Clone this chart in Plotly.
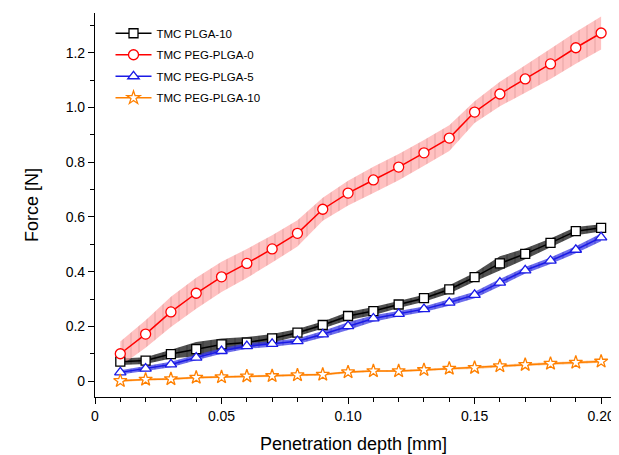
import plotly.graph_objects as go

depth = [0.01, 0.02, 0.03, 0.04, 0.05, 0.06, 0.07, 0.08, 0.09, 0.10,
         0.11, 0.12, 0.13, 0.14, 0.15, 0.16, 0.17, 0.18, 0.19, 0.20]

plga10 = [0.071, 0.075, 0.099, 0.117, 0.134, 0.141, 0.156, 0.177, 0.205, 0.238,
          0.256, 0.280, 0.303, 0.335, 0.380, 0.430, 0.465, 0.505, 0.548, 0.560]
plga10_err = [0.012, 0.012, 0.016, 0.026, 0.022, 0.02, 0.016, 0.013, 0.013, 0.015,
              0.015, 0.013, 0.013, 0.015, 0.016, 0.026, 0.02, 0.016, 0.015, 0.013]

peg0 = [0.100, 0.172, 0.253, 0.321, 0.381, 0.430, 0.483, 0.540, 0.628, 0.687,
        0.735, 0.782, 0.834, 0.888, 0.983, 1.049, 1.104, 1.159, 1.218, 1.272]
peg0_err = [0.045, 0.05, 0.055, 0.057, 0.055, 0.053, 0.05, 0.048, 0.042, 0.045,
            0.048, 0.048, 0.047, 0.047, 0.04, 0.045, 0.05, 0.055, 0.058, 0.06]

peg5 = [0.032, 0.046, 0.061, 0.086, 0.110, 0.128, 0.136, 0.146, 0.171, 0.201,
        0.229, 0.246, 0.263, 0.287, 0.315, 0.360, 0.405, 0.440, 0.480, 0.525]
peg5_err = [0.008, 0.009, 0.01, 0.01, 0.01, 0.01, 0.01, 0.01, 0.012, 0.014,
            0.012, 0.01, 0.01, 0.012, 0.012, 0.013, 0.012, 0.012, 0.013, 0.014]

peg10 = [0.001, 0.006, 0.008, 0.013, 0.015, 0.018, 0.019, 0.022, 0.024, 0.033,
         0.037, 0.037, 0.041, 0.046, 0.049, 0.055, 0.060, 0.064, 0.068, 0.072]
peg10_err = [0.004, 0.004, 0.004, 0.004, 0.004, 0.004, 0.004, 0.004, 0.004, 0.004,
             0.004, 0.004, 0.004, 0.004, 0.005, 0.005, 0.005, 0.005, 0.005, 0.005]

x_ticks = [0, 0.05, 0.10, 0.15, 0.20]
x_ticklabels = ["0", "0.05", "0.10", "0.15", "0.20"]
y_ticks = [0, 0.2, 0.4, 0.6, 0.8, 1.0, 1.2]
y_ticklabels = ["0", "0.2", "0.4", "0.6", "0.8", "1.0", "1.2"]

series = [
    ("TMC PLGA-10", plga10, plga10_err, "black", "square",
     "rgba(70,70,70,0.95)", "rgba(20,20,20,0.9)", 9),
    ("TMC PEG-PLGA-0", peg0, peg0_err, "#ff0000", "circle",
     "rgba(255,160,160,0.65)", "rgba(170,90,90,0.6)", 10),
    ("TMC PEG-PLGA-5", peg5, peg5_err, "#1a1ae6", "triangle-up",
     "rgba(60,60,230,0.75)", "rgba(20,20,150,0.8)", 10),
    ("TMC PEG-PLGA-10", peg10, peg10_err, "#ff8000", "star",
     "rgba(255,170,90,0.6)", "rgba(200,110,40,0.6)", 10),
]

fig = go.Figure()

# error bands
for name, y, e, col, sym, bg, fg, ms in series:
    upper = [a + b for a, b in zip(y, e)]
    lower = [a - b for a, b in zip(y, e)]
    fig.add_trace(go.Scatter(
        x=depth + depth[::-1], y=upper + lower[::-1],
        mode="none", fill="toself", fillcolor=bg,
        fillpattern=dict(shape="|", bgcolor=bg, fgcolor=fg, size=8, solidity=0.12),
        showlegend=False, hoverinfo="skip"))

for name, y, e, col, sym, bg, fg, ms in series:
    fig.add_trace(go.Scatter(
        x=depth, y=y, mode="lines+markers", name=name, legendgroup=name,
        line=dict(color=col, width=1.5),
        marker=dict(symbol=sym, size=ms, color="white",
                    line=dict(color=col, width=1.3))))

# the page body adds an 8 px offset, so the figure is sized to fit the window
fig.update_layout(
    width=611, height=447,
    margin=dict(l=87, r=7, t=5, b=58, autoexpand=False),
    paper_bgcolor="white", plot_bgcolor="white",
    font=dict(family="Liberation Sans, Arial, sans-serif", color="black"),
    showlegend=True,
    legend=dict(x=0.03, y=0.985, xanchor="left", yanchor="top",
                bgcolor="rgba(0,0,0,0)", font=dict(size=11.5),
                itemwidth=36, tracegroupgap=2.5),
)

fig.update_xaxes(
    range=[0, 0.2043], showline=True, linecolor="black", linewidth=1.2,
    showgrid=False, zeroline=False, automargin=False,
    tickmode="array", tickvals=x_ticks, ticktext=x_ticklabels,
    ticks="outside", ticklen=6, tickwidth=1.2, tickcolor="black",
    tickfont=dict(size=14),
    minor=dict(dtick=0.01, tick0=0, ticks="outside", ticklen=3.5,
               tickwidth=1.2, tickcolor="black"),
    title=dict(text="Penetration depth [mm]", font=dict(size=18), standoff=14),
)
fig.update_yaxes(
    range=[-0.058, 1.345], showline=True, linecolor="black", linewidth=1.2,
    showgrid=False, zeroline=False, automargin=False,
    tickmode="array", tickvals=y_ticks, ticktext=y_ticklabels,
    ticks="outside", ticklen=6, tickwidth=1.2, tickcolor="black",
    tickfont=dict(size=14),
    minor=dict(dtick=0.1, tick0=0, ticks="outside", ticklen=3.5,
               tickwidth=1.2, tickcolor="black"),
    title=dict(text="Force [N]", font=dict(size=18), standoff=22),
)

fig.write_html("out.html")
